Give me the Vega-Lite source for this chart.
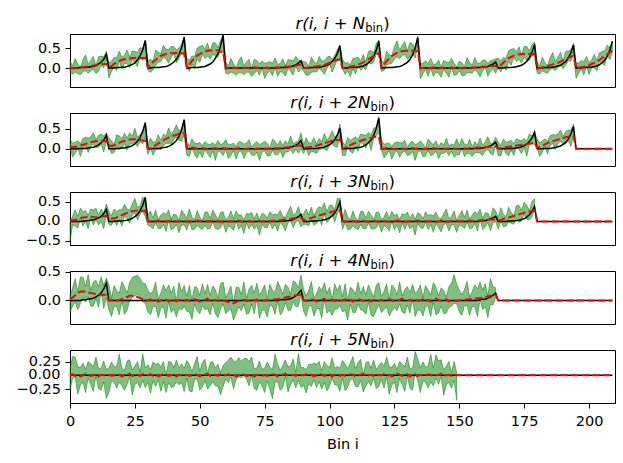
{
  "$schema": "https://vega.github.io/schema/vega-lite/v6.json",
  "padding": {"left": 15, "top": 15, "right": 5, "bottom": 5},
  "spacing": 26,
  "bounds": "flush",
  "datasets": {
    "p1": [
      {"x":0,"l":-0.1,"h":0.18,"b":0,"r":0.01},{"x":1,"l":-0.15,"h":0.05,"b":0,"r":0},{"x":2,"l":-0.1,"h":0.24,"b":0,"r":-0.01},{"x":3,"l":-0.14,"h":0.1,"b":0,"r":0},{"x":4,"l":-0.17,"h":0.01,"b":0.01,"r":0.01},
      {"x":5,"l":-0.09,"h":0.21,"b":0.01,"r":0.02},{"x":6,"l":-0.07,"h":0.33,"b":0.01,"r":0.03},{"x":7,"l":-0.13,"h":0.09,"b":0.02,"r":0.04},{"x":8,"l":-0.07,"h":0.19,"b":0.03,"r":0.05},{"x":9,"l":-0.03,"h":0.29,"b":0.04,"r":0.06},
      {"x":10,"l":-0.14,"h":0.06,"b":0.06,"r":0.07},{"x":11,"l":-0.08,"h":0.28,"b":0.1,"r":0.08},{"x":12,"l":0.06,"h":0.3,"b":0.15,"r":0.09},{"x":13,"l":0,"h":0.28,"b":0.22,"r":0.1},{"x":14,"l":0.24,"h":0.42,"b":0.34,"r":0.1},
      {"x":15,"l":-0.25,"h":0.13,"b":0,"r":0.01},{"x":16,"l":-0.09,"h":0.17,"b":0,"r":0.05},{"x":17,"l":0.05,"h":0.27,"b":0,"r":0.1},{"x":18,"l":-0.06,"h":0.26,"b":0.01,"r":0.14},{"x":19,"l":0.18,"h":0.42,"b":0.01,"r":0.18},
      {"x":20,"l":-0.03,"h":0.27,"b":0.02,"r":0.2},{"x":21,"l":0.12,"h":0.32,"b":0.02,"r":0.22},{"x":22,"l":0.11,"h":0.45,"b":0.04,"r":0.24},{"x":23,"l":0.01,"h":0.27,"b":0.06,"r":0.24},{"x":24,"l":0.21,"h":0.43,"b":0.09,"r":0.25},
      {"x":25,"l":0.13,"h":0.41,"b":0.13,"r":0.25},{"x":26,"l":0.03,"h":0.39,"b":0.2,"r":0.26},{"x":27,"l":0.27,"h":0.51,"b":0.3,"r":0.25},{"x":28,"l":0.19,"h":0.49,"b":0.45,"r":0.25},{"x":29,"l":0.28,"h":0.68,"b":0.69,"r":0.25},
      {"x":30,"l":-0.05,"h":0.19,"b":0,"r":0.02},{"x":31,"l":-0.11,"h":0.21,"b":0,"r":0.07},{"x":32,"l":-0.04,"h":0.18,"b":0.01,"r":0.15},{"x":33,"l":0.07,"h":0.45,"b":0.01,"r":0.2},{"x":34,"l":0.14,"h":0.4,"b":0.01,"r":0.26},
      {"x":35,"l":0.16,"h":0.36,"b":0.02,"r":0.3},{"x":36,"l":0.27,"h":0.57,"b":0.03,"r":0.33},{"x":37,"l":0.22,"h":0.46,"b":0.04,"r":0.35},{"x":38,"l":0.12,"h":0.46,"b":0.06,"r":0.36},{"x":39,"l":0.26,"h":0.54,"b":0.1,"r":0.37},
      {"x":40,"l":0.36,"h":0.54,"b":0.15,"r":0.37},{"x":41,"l":0.13,"h":0.45,"b":0.22,"r":0.38},{"x":42,"l":0.24,"h":0.5,"b":0.33,"r":0.37},{"x":43,"l":0.38,"h":0.6,"b":0.51,"r":0.36},{"x":44,"l":0.35,"h":0.78,"b":0.77,"r":0.37},
      {"x":45,"l":0,"h":0.24,"b":0,"r":0.02},{"x":46,"l":-0.08,"h":0.2,"b":0,"r":0.09},{"x":47,"l":0.1,"h":0.3,"b":0.01,"r":0.18},{"x":48,"l":-0.01,"h":0.29,"b":0.01,"r":0.24},{"x":49,"l":0.24,"h":0.5,"b":0.01,"r":0.31},
      {"x":50,"l":0.14,"h":0.54,"b":0.02,"r":0.35},{"x":51,"l":0.35,"h":0.57,"b":0.03,"r":0.39},{"x":52,"l":0.24,"h":0.48,"b":0.04,"r":0.41},{"x":53,"l":0.3,"h":0.62,"b":0.07,"r":0.43},{"x":54,"l":0.22,"h":0.42,"b":0.1,"r":0.44},
      {"x":55,"l":0.35,"h":0.63,"b":0.15,"r":0.44},{"x":56,"l":0.29,"h":0.63,"b":0.24,"r":0.45},{"x":57,"l":0.27,"h":0.51,"b":0.36,"r":0.43},{"x":58,"l":0.43,"h":0.69,"b":0.54,"r":0.4},{"x":59,"l":0.45,"h":0.82,"b":0.82,"r":0.41},
      {"x":60,"l":-0.13,"h":0.15,"b":0,"r":-0.02},{"x":61,"l":-0.15,"h":0.05,"b":0,"r":0},{"x":62,"l":-0.1,"h":0.24,"b":0,"r":-0.01},{"x":63,"l":-0.13,"h":0.11,"b":0,"r":0.01},{"x":64,"l":-0.18,"h":0,"b":0,"r":0},
      {"x":65,"l":-0.12,"h":0.18,"b":0,"r":-0.01},{"x":66,"l":-0.12,"h":0.28,"b":0,"r":-0.02},{"x":67,"l":-0.17,"h":0.05,"b":0,"r":0},{"x":68,"l":-0.11,"h":0.15,"b":0,"r":0.01},{"x":69,"l":-0.1,"h":0.22,"b":0,"r":-0.01},
      {"x":70,"l":-0.21,"h":-0.01,"b":0,"r":0},{"x":71,"l":-0.14,"h":0.22,"b":0,"r":0.02},{"x":72,"l":-0.06,"h":0.18,"b":0,"r":0.01},{"x":73,"l":-0.18,"h":0.1,"b":0,"r":-0.01},{"x":74,"l":0,"h":0.18,"b":0,"r":0},
      {"x":75,"l":-0.26,"h":0.12,"b":0,"r":0},{"x":76,"l":-0.13,"h":0.13,"b":0,"r":0.01},{"x":77,"l":-0.06,"h":0.16,"b":0,"r":-0.01},{"x":78,"l":-0.2,"h":0.12,"b":0,"r":0},{"x":79,"l":0.01,"h":0.25,"b":0,"r":0.01},
      {"x":80,"l":-0.21,"h":0.09,"b":0,"r":0.02},{"x":81,"l":-0.09,"h":0.11,"b":0.01,"r":0.01},{"x":82,"l":-0.11,"h":0.23,"b":0.01,"r":0.02},{"x":83,"l":-0.2,"h":0.06,"b":0.01,"r":0.03},{"x":84,"l":-0.01,"h":0.21,"b":0.02,"r":0.03},
      {"x":85,"l":-0.08,"h":0.2,"b":0.03,"r":0.04},{"x":86,"l":-0.18,"h":0.18,"b":0.05,"r":0.05},{"x":87,"l":0.05,"h":0.29,"b":0.08,"r":0.06},{"x":88,"l":-0.1,"h":0.2,"b":0.12,"r":0.08},{"x":89,"l":-0.02,"h":0.18,"b":0.18,"r":0.09},
      {"x":90,"l":-0.07,"h":0.17,"b":0,"r":0},{"x":91,"l":-0.18,"h":0.14,"b":0,"r":0},{"x":92,"l":-0.18,"h":0.04,"b":0,"r":0.01},{"x":93,"l":-0.11,"h":0.27,"b":0.01,"r":0.02},{"x":94,"l":-0.09,"h":0.17,"b":0.01,"r":0.03},
      {"x":95,"l":-0.1,"h":0.1,"b":0.01,"r":0.04},{"x":96,"l":-0.01,"h":0.29,"b":0.02,"r":0.05},{"x":97,"l":-0.06,"h":0.18,"b":0.03,"r":0.07},{"x":98,"l":-0.16,"h":0.18,"b":0.05,"r":0.08},{"x":99,"l":-0.01,"h":0.27,"b":0.07,"r":0.1},
      {"x":100,"l":0.12,"h":0.3,"b":0.1,"r":0.13},{"x":101,"l":-0.1,"h":0.22,"b":0.16,"r":0.15},{"x":102,"l":0.05,"h":0.31,"b":0.24,"r":0.18},{"x":103,"l":0.23,"h":0.45,"b":0.36,"r":0.2},{"x":104,"l":0.2,"h":0.58,"b":0.55,"r":0.22},
      {"x":105,"l":-0.02,"h":0.22,"b":0,"r":0},{"x":106,"l":-0.16,"h":0.12,"b":0,"r":0.01},{"x":107,"l":-0.06,"h":0.14,"b":0,"r":0.02},{"x":108,"l":-0.22,"h":0.08,"b":0.01,"r":0.03},{"x":109,"l":-0.02,"h":0.24,"b":0.01,"r":0.05},
      {"x":110,"l":-0.15,"h":0.25,"b":0.02,"r":0.06},{"x":111,"l":0.05,"h":0.27,"b":0.02,"r":0.09},{"x":112,"l":-0.06,"h":0.18,"b":0.04,"r":0.11},{"x":113,"l":0.01,"h":0.33,"b":0.05,"r":0.14},{"x":114,"l":-0.04,"h":0.16,"b":0.08,"r":0.18},
      {"x":115,"l":0.13,"h":0.41,"b":0.13,"r":0.22},{"x":116,"l":0.1,"h":0.44,"b":0.19,"r":0.26},{"x":117,"l":0.14,"h":0.38,"b":0.29,"r":0.3},{"x":118,"l":0.35,"h":0.61,"b":0.44,"r":0.34},{"x":119,"l":0.38,"h":0.7,"b":0.67,"r":0.38},
      {"x":120,"l":-0.09,"h":0.19,"b":0,"r":0.02},{"x":121,"l":-0.06,"h":0.14,"b":0,"r":0.09},{"x":122,"l":0.08,"h":0.42,"b":0.01,"r":0.17},{"x":123,"l":0.1,"h":0.34,"b":0.01,"r":0.24},{"x":124,"l":0.12,"h":0.3,"b":0.01,"r":0.3},
      {"x":125,"l":0.23,"h":0.53,"b":0.02,"r":0.34},{"x":126,"l":0.28,"h":0.68,"b":0.03,"r":0.38},{"x":127,"l":0.23,"h":0.45,"b":0.04,"r":0.4},{"x":128,"l":0.3,"h":0.56,"b":0.06,"r":0.42},{"x":129,"l":0.34,"h":0.66,"b":0.1,"r":0.43},
      {"x":130,"l":0.22,"h":0.42,"b":0.14,"r":0.43},{"x":131,"l":0.28,"h":0.64,"b":0.22,"r":0.44},{"x":132,"l":0.36,"h":0.6,"b":0.33,"r":0.43},{"x":133,"l":0.25,"h":0.53,"b":0.5,"r":0.42},{"x":134,"l":0.55,"h":0.8,"b":0.76,"r":0.42},
      {"x":135,"l":-0.27,"h":0.11,"b":0,"r":-0.01},{"x":136,"l":-0.14,"h":0.12,"b":0,"r":0},{"x":137,"l":-0.04,"h":0.18,"b":0,"r":0.01},{"x":138,"l":-0.21,"h":0.11,"b":0,"r":-0.01},{"x":139,"l":0,"h":0.24,"b":0,"r":0},
      {"x":140,"l":-0.21,"h":0.09,"b":0,"r":0.02},{"x":141,"l":-0.1,"h":0.1,"b":0,"r":0},{"x":142,"l":-0.14,"h":0.2,"b":0,"r":-0.01},{"x":143,"l":-0.23,"h":0.03,"b":0,"r":0},{"x":144,"l":-0.03,"h":0.19,"b":0,"r":0.01},
      {"x":145,"l":-0.13,"h":0.15,"b":0,"r":-0.01},{"x":146,"l":-0.23,"h":0.13,"b":0,"r":0},{"x":147,"l":0,"h":0.24,"b":0,"r":0.01},{"x":148,"l":-0.18,"h":0.12,"b":0,"r":0},{"x":149,"l":-0.17,"h":0.03,"b":0,"r":-0.01},
      {"x":150,"l":-0.07,"h":0.17,"b":0,"r":0},{"x":151,"l":-0.19,"h":0.13,"b":0,"r":-0.01},{"x":152,"l":-0.19,"h":0.03,"b":0,"r":0},{"x":153,"l":-0.12,"h":0.26,"b":0,"r":0.01},{"x":154,"l":-0.12,"h":0.14,"b":0,"r":0},
      {"x":155,"l":-0.13,"h":0.07,"b":0,"r":0.01},{"x":156,"l":-0.04,"h":0.26,"b":0.01,"r":0.02},{"x":157,"l":-0.12,"h":0.12,"b":0.01,"r":0.01},{"x":158,"l":-0.22,"h":0.12,"b":0.01,"r":0.02},{"x":159,"l":-0.08,"h":0.2,"b":0.02,"r":0.03},
      {"x":160,"l":0.02,"h":0.2,"b":0.03,"r":0.03},{"x":161,"l":-0.21,"h":0.11,"b":0.04,"r":0.04},{"x":162,"l":-0.08,"h":0.18,"b":0.07,"r":0.05},{"x":163,"l":-0.02,"h":0.2,"b":0.1,"r":0.05},{"x":164,"l":-0.13,"h":0.23,"b":0.15,"r":0.06},
      {"x":165,"l":0,"h":0.24,"b":0,"r":0.02},{"x":166,"l":-0.1,"h":0.18,"b":0,"r":0.07},{"x":167,"l":0.06,"h":0.26,"b":0,"r":0.14},{"x":168,"l":-0.06,"h":0.24,"b":0.01,"r":0.19},{"x":169,"l":0.17,"h":0.43,"b":0.01,"r":0.24},
      {"x":170,"l":0.07,"h":0.47,"b":0.01,"r":0.28},{"x":171,"l":0.27,"h":0.49,"b":0.02,"r":0.31},{"x":172,"l":0.16,"h":0.4,"b":0.03,"r":0.33},{"x":173,"l":0.21,"h":0.53,"b":0.05,"r":0.34},{"x":174,"l":0.13,"h":0.33,"b":0.07,"r":0.35},
      {"x":175,"l":0.26,"h":0.54,"b":0.11,"r":0.35},{"x":176,"l":0.2,"h":0.54,"b":0.17,"r":0.36},{"x":177,"l":0.19,"h":0.43,"b":0.26,"r":0.35},{"x":178,"l":0.32,"h":0.58,"b":0.39,"r":0.34},{"x":179,"l":0.32,"h":0.65,"b":0.59,"r":0.35},
      {"x":180,"l":-0.13,"h":0.15,"b":0,"r":-0.02},{"x":181,"l":-0.15,"h":0.05,"b":0,"r":0},{"x":182,"l":-0.07,"h":0.27,"b":0,"r":0.02},{"x":183,"l":-0.11,"h":0.13,"b":0.01,"r":0.03},{"x":184,"l":-0.13,"h":0.05,"b":0.01,"r":0.05},
      {"x":185,"l":-0.04,"h":0.26,"b":0.01,"r":0.07},{"x":186,"l":-0.01,"h":0.39,"b":0.02,"r":0.09},{"x":187,"l":-0.06,"h":0.16,"b":0.03,"r":0.11},{"x":188,"l":0.01,"h":0.27,"b":0.05,"r":0.13},{"x":189,"l":0.07,"h":0.39,"b":0.07,"r":0.16},
      {"x":190,"l":-0.02,"h":0.18,"b":0.11,"r":0.19},{"x":191,"l":0.06,"h":0.42,"b":0.16,"r":0.22},{"x":192,"l":0.18,"h":0.42,"b":0.25,"r":0.25},{"x":193,"l":0.17,"h":0.45,"b":0.38,"r":0.28},{"x":194,"l":0.4,"h":0.62,"b":0.57,"r":0.3},
      {"x":195,"l":-0.26,"h":0.12,"b":0,"r":0},{"x":196,"l":-0.13,"h":0.13,"b":0,"r":0.01},{"x":197,"l":-0.03,"h":0.19,"b":0,"r":0.02},{"x":198,"l":-0.17,"h":0.15,"b":0.01,"r":0.03},{"x":199,"l":0.05,"h":0.29,"b":0.01,"r":0.05},
      {"x":200,"l":-0.16,"h":0.14,"b":0.02,"r":0.07},{"x":201,"l":0,"h":0.2,"b":0.02,"r":0.1},{"x":202,"l":0,"h":0.34,"b":0.04,"r":0.13},{"x":203,"l":-0.07,"h":0.19,"b":0.05,"r":0.16},{"x":204,"l":0.16,"h":0.38,"b":0.08,"r":0.2},
      {"x":205,"l":0.13,"h":0.41,"b":0.13,"r":0.25},{"x":206,"l":0.06,"h":0.42,"b":0.19,"r":0.29},{"x":207,"l":0.33,"h":0.57,"b":0.29,"r":0.34},{"x":208,"l":0.21,"h":0.51,"b":0.44,"r":0.39},{"x":209,"l":0.41,"h":0.66,"b":0.67,"r":0.43}
    ],
    "p2": [
      {"x":0,"l":0.02,"h":0.26,"b":0,"r":0.04},{"x":1,"l":-0.2,"h":0.14,"b":0,"r":0.04},{"x":2,"l":-0.11,"h":0.17,"b":0,"r":0.05},{"x":3,"l":0.02,"h":0.2,"b":0,"r":0.06},{"x":4,"l":-0.19,"h":0.13,"b":0.01,"r":0.08},
      {"x":5,"l":0,"h":0.26,"b":0.01,"r":0.1},{"x":6,"l":0.07,"h":0.29,"b":0.01,"r":0.12},{"x":7,"l":-0.09,"h":0.27,"b":0.02,"r":0.14},{"x":8,"l":0.06,"h":0.3,"b":0.03,"r":0.16},{"x":9,"l":0.12,"h":0.4,"b":0.04,"r":0.18},
      {"x":10,"l":0.03,"h":0.23,"b":0.06,"r":0.19},{"x":11,"l":0.04,"h":0.34,"b":0.1,"r":0.2},{"x":12,"l":0.11,"h":0.37,"b":0.15,"r":0.2},{"x":13,"l":-0.08,"h":0.32,"b":0.22,"r":0.19},{"x":14,"l":0.18,"h":0.4,"b":0.34,"r":0.2},
      {"x":15,"l":0.03,"h":0.27,"b":0,"r":0.08},{"x":16,"l":-0.12,"h":0.2,"b":0,"r":0.07},{"x":17,"l":-0.09,"h":0.11,"b":0,"r":0.09},{"x":18,"l":0.07,"h":0.35,"b":0.01,"r":0.12},{"x":19,"l":-0.02,"h":0.32,"b":0.01,"r":0.15},
      {"x":20,"l":0.02,"h":0.26,"b":0.02,"r":0.18},{"x":21,"l":0.13,"h":0.39,"b":0.02,"r":0.2},{"x":22,"l":-0.03,"h":0.27,"b":0.04,"r":0.22},{"x":23,"l":0.12,"h":0.4,"b":0.05,"r":0.23},{"x":24,"l":0.12,"h":0.32,"b":0.08,"r":0.24},
      {"x":25,"l":0.17,"h":0.51,"b":0.12,"r":0.24},{"x":26,"l":0.05,"h":0.29,"b":0.19,"r":0.23},{"x":27,"l":0.18,"h":0.36,"b":0.28,"r":0.22},{"x":28,"l":0.12,"h":0.42,"b":0.43,"r":0.21},{"x":29,"l":0.3,"h":0.66,"b":0.65,"r":0.2},
      {"x":30,"l":-0.14,"h":0.08,"b":0,"r":0},{"x":31,"l":0.01,"h":0.27,"b":0,"r":0.02},{"x":32,"l":-0.16,"h":0.16,"b":0.01,"r":0.05},{"x":33,"l":-0.02,"h":0.18,"b":0.01,"r":0.09},{"x":34,"l":-0.01,"h":0.35,"b":0.01,"r":0.13},
      {"x":35,"l":-0.03,"h":0.21,"b":0.02,"r":0.17},{"x":36,"l":0.09,"h":0.37,"b":0.03,"r":0.21},{"x":37,"l":0.13,"h":0.31,"b":0.04,"r":0.25},{"x":38,"l":0.14,"h":0.52,"b":0.06,"r":0.28},{"x":39,"l":0.1,"h":0.36,"b":0.09,"r":0.31},
      {"x":40,"l":0.24,"h":0.46,"b":0.14,"r":0.33},{"x":41,"l":0.28,"h":0.6,"b":0.21,"r":0.35},{"x":42,"l":0.21,"h":0.45,"b":0.31,"r":0.37},{"x":43,"l":0.19,"h":0.49,"b":0.47,"r":0.39},{"x":44,"l":0.35,"h":0.75,"b":0.72,"r":0.4},
      {"x":45,"l":-0.16,"h":0.18,"b":0,"r":0.02},{"x":46,"l":-0.19,"h":0.07,"b":0,"r":0.01},{"x":47,"l":0.03,"h":0.25,"b":0,"r":0.03},{"x":48,"l":-0.14,"h":0.14,"b":0,"r":0.02},{"x":49,"l":-0.23,"h":0.13,"b":0,"r":0},
      {"x":50,"l":-0.08,"h":0.16,"b":0,"r":0.01},{"x":51,"l":-0.22,"h":0.08,"b":0,"r":0.02},{"x":52,"l":-0.02,"h":0.18,"b":0,"r":0.01},{"x":53,"l":-0.12,"h":0.12,"b":0,"r":-0.01},{"x":54,"l":-0.22,"h":0.1,"b":0,"r":0},
      {"x":55,"l":-0.06,"h":0.16,"b":0,"r":0.01},{"x":56,"l":-0.29,"h":0.09,"b":0,"r":0.02},{"x":57,"l":-0.05,"h":0.21,"b":0,"r":0},{"x":58,"l":-0.09,"h":0.11,"b":0,"r":0.01},{"x":59,"l":-0.17,"h":0.13,"b":0,"r":0.02},
      {"x":60,"l":-0.01,"h":0.23,"b":0,"r":0.01},{"x":61,"l":-0.24,"h":0.1,"b":0,"r":0},{"x":62,"l":-0.17,"h":0.11,"b":0,"r":-0.01},{"x":63,"l":-0.04,"h":0.14,"b":0,"r":0},{"x":64,"l":-0.26,"h":0.06,"b":0,"r":0.01},
      {"x":65,"l":-0.08,"h":0.18,"b":0,"r":0.02},{"x":66,"l":-0.05,"h":0.17,"b":0,"r":0},{"x":67,"l":-0.24,"h":0.12,"b":0,"r":-0.01},{"x":68,"l":-0.1,"h":0.14,"b":0,"r":0},{"x":69,"l":-0.05,"h":0.23,"b":0,"r":0.01},
      {"x":70,"l":-0.16,"h":0.04,"b":0,"r":0},{"x":71,"l":-0.17,"h":0.13,"b":0,"r":-0.01},{"x":72,"l":-0.08,"h":0.18,"b":0,"r":0.01},{"x":73,"l":-0.29,"h":0.11,"b":0,"r":0},{"x":74,"l":-0.08,"h":0.14,"b":0,"r":0.02},
      {"x":75,"l":-0.05,"h":0.19,"b":0,"r":0},{"x":76,"l":-0.18,"h":0.14,"b":0,"r":0.01},{"x":77,"l":-0.18,"h":0.02,"b":0,"r":0},{"x":78,"l":-0.04,"h":0.24,"b":0,"r":0.01},{"x":79,"l":-0.15,"h":0.19,"b":0,"r":0.02},
      {"x":80,"l":-0.15,"h":0.09,"b":0,"r":0.01},{"x":81,"l":-0.05,"h":0.21,"b":0.01,"r":0.02},{"x":82,"l":-0.22,"h":0.08,"b":0.01,"r":0.03},{"x":83,"l":-0.08,"h":0.2,"b":0.02,"r":0.03},{"x":84,"l":-0.08,"h":0.12,"b":0.02,"r":0.04},
      {"x":85,"l":-0.02,"h":0.32,"b":0.03,"r":0.05},{"x":86,"l":-0.12,"h":0.12,"b":0.06,"r":0.06},{"x":87,"l":-0.01,"h":0.17,"b":0.09,"r":0.07},{"x":88,"l":-0.11,"h":0.19,"b":0.13,"r":0.08},{"x":89,"l":0,"h":0.4,"b":0.2,"r":0.08},
      {"x":90,"l":-0.12,"h":0.1,"b":0,"r":0.02},{"x":91,"l":0.02,"h":0.28,"b":0,"r":0.03},{"x":92,"l":-0.17,"h":0.15,"b":0,"r":0.04},{"x":93,"l":-0.06,"h":0.14,"b":0.01,"r":0.05},{"x":94,"l":-0.08,"h":0.28,"b":0.01,"r":0.06},
      {"x":95,"l":-0.12,"h":0.12,"b":0.01,"r":0.08},{"x":96,"l":-0.02,"h":0.26,"b":0.02,"r":0.1},{"x":97,"l":0,"h":0.18,"b":0.03,"r":0.12},{"x":98,"l":0,"h":0.38,"b":0.04,"r":0.14},{"x":99,"l":-0.05,"h":0.21,"b":0.07,"r":0.16},
      {"x":100,"l":0.09,"h":0.31,"b":0.1,"r":0.18},{"x":101,"l":0.13,"h":0.45,"b":0.15,"r":0.2},{"x":102,"l":0.06,"h":0.3,"b":0.23,"r":0.21},{"x":103,"l":0.04,"h":0.34,"b":0.34,"r":0.22},{"x":104,"l":0.3,"h":0.62,"b":0.52,"r":0.23},
      {"x":105,"l":-0.17,"h":0.17,"b":0,"r":0.01},{"x":106,"l":-0.17,"h":0.09,"b":0,"r":0.03},{"x":107,"l":0.06,"h":0.28,"b":0.01,"r":0.06},{"x":108,"l":-0.07,"h":0.21,"b":0.01,"r":0.09},{"x":109,"l":-0.11,"h":0.25,"b":0.01,"r":0.12},
      {"x":110,"l":0.06,"h":0.3,"b":0.02,"r":0.15},{"x":111,"l":-0.06,"h":0.24,"b":0.03,"r":0.18},{"x":112,"l":0.17,"h":0.37,"b":0.04,"r":0.2},{"x":113,"l":0.11,"h":0.35,"b":0.06,"r":0.22},{"x":114,"l":0.02,"h":0.34,"b":0.1,"r":0.24},
      {"x":115,"l":0.19,"h":0.41,"b":0.15,"r":0.26},{"x":116,"l":-0.04,"h":0.34,"b":0.22,"r":0.27},{"x":117,"l":0.26,"h":0.52,"b":0.33,"r":0.29},{"x":118,"l":0.33,"h":0.53,"b":0.51,"r":0.3},{"x":119,"l":0.4,"h":0.8,"b":0.77,"r":0.31},
      {"x":120,"l":-0.02,"h":0.22,"b":0,"r":0},{"x":121,"l":-0.23,"h":0.11,"b":0,"r":0.01},{"x":122,"l":-0.14,"h":0.14,"b":0,"r":0.02},{"x":123,"l":-0.04,"h":0.14,"b":0,"r":0},{"x":124,"l":-0.26,"h":0.06,"b":0,"r":0.01},
      {"x":125,"l":-0.11,"h":0.15,"b":0,"r":-0.01},{"x":126,"l":-0.05,"h":0.17,"b":0,"r":0},{"x":127,"l":-0.21,"h":0.15,"b":0,"r":0.02},{"x":128,"l":-0.09,"h":0.15,"b":0,"r":0.01},{"x":129,"l":-0.06,"h":0.22,"b":0,"r":0},
      {"x":130,"l":-0.17,"h":0.03,"b":0,"r":-0.01},{"x":131,"l":-0.15,"h":0.15,"b":0,"r":0.01},{"x":132,"l":-0.07,"h":0.19,"b":0,"r":0.02},{"x":133,"l":-0.29,"h":0.11,"b":0,"r":0},{"x":134,"l":-0.09,"h":0.13,"b":0,"r":0.01},
      {"x":135,"l":-0.04,"h":0.2,"b":0,"r":0.01},{"x":136,"l":-0.2,"h":0.12,"b":0,"r":-0.01},{"x":137,"l":-0.18,"h":0.02,"b":0,"r":0},{"x":138,"l":-0.04,"h":0.24,"b":0,"r":0.01},{"x":139,"l":-0.17,"h":0.17,"b":0,"r":0},
      {"x":140,"l":-0.14,"h":0.1,"b":0,"r":0.02},{"x":141,"l":-0.06,"h":0.2,"b":0,"r":0.01},{"x":142,"l":-0.25,"h":0.05,"b":0,"r":0},{"x":143,"l":-0.12,"h":0.16,"b":0,"r":-0.01},{"x":144,"l":-0.11,"h":0.09,"b":0,"r":0.01},
      {"x":145,"l":-0.07,"h":0.27,"b":0,"r":0},{"x":146,"l":-0.17,"h":0.07,"b":0,"r":0.01},{"x":147,"l":-0.06,"h":0.12,"b":0,"r":0.02},{"x":148,"l":-0.21,"h":0.09,"b":0,"r":0.01},{"x":149,"l":-0.15,"h":0.25,"b":0,"r":0},
      {"x":150,"l":-0.14,"h":0.08,"b":0,"r":0},{"x":151,"l":0,"h":0.26,"b":0,"r":0.01},{"x":152,"l":-0.2,"h":0.12,"b":0,"r":0.01},{"x":153,"l":-0.11,"h":0.09,"b":0,"r":0},{"x":154,"l":-0.12,"h":0.24,"b":0,"r":0.02},
      {"x":155,"l":-0.19,"h":0.05,"b":0,"r":0.01},{"x":156,"l":-0.1,"h":0.18,"b":0.01,"r":0.02},{"x":157,"l":-0.09,"h":0.09,"b":0.01,"r":0.03},{"x":158,"l":-0.11,"h":0.27,"b":0.01,"r":0.03},{"x":159,"l":-0.17,"h":0.09,"b":0.02,"r":0.04},
      {"x":160,"l":-0.05,"h":0.17,"b":0.03,"r":0.04},{"x":161,"l":-0.02,"h":0.3,"b":0.05,"r":0.05},{"x":162,"l":-0.11,"h":0.13,"b":0.07,"r":0.05},{"x":163,"l":-0.16,"h":0.14,"b":0.11,"r":0.06},{"x":164,"l":0.09,"h":0.29,"b":0.17,"r":0.06},
      {"x":165,"l":-0.17,"h":0.17,"b":0,"r":0.01},{"x":166,"l":-0.18,"h":0.08,"b":0,"r":0.02},{"x":167,"l":0.03,"h":0.25,"b":0,"r":0.03},{"x":168,"l":-0.12,"h":0.16,"b":0,"r":0.04},{"x":169,"l":-0.18,"h":0.18,"b":0.01,"r":0.05},
      {"x":170,"l":-0.03,"h":0.21,"b":0.01,"r":0.06},{"x":171,"l":-0.17,"h":0.13,"b":0.01,"r":0.07},{"x":172,"l":0.05,"h":0.25,"b":0.02,"r":0.08},{"x":173,"l":-0.02,"h":0.22,"b":0.03,"r":0.09},{"x":174,"l":-0.12,"h":0.2,"b":0.05,"r":0.1},
      {"x":175,"l":0.04,"h":0.26,"b":0.08,"r":0.11},{"x":176,"l":-0.19,"h":0.19,"b":0.12,"r":0.12},{"x":177,"l":0.11,"h":0.37,"b":0.18,"r":0.13},{"x":178,"l":0.12,"h":0.32,"b":0.27,"r":0.14},{"x":179,"l":0.12,"h":0.42,"b":0.41,"r":0.15},
      {"x":180,"l":0,"h":0.24,"b":0,"r":0.02},{"x":181,"l":-0.19,"h":0.15,"b":0,"r":0.05},{"x":182,"l":-0.08,"h":0.2,"b":0,"r":0.08},{"x":183,"l":0.07,"h":0.25,"b":0.01,"r":0.11},{"x":184,"l":-0.13,"h":0.19,"b":0.01,"r":0.14},
      {"x":185,"l":0.07,"h":0.33,"b":0.01,"r":0.17},{"x":186,"l":0.14,"h":0.36,"b":0.02,"r":0.19},{"x":187,"l":-0.02,"h":0.34,"b":0.03,"r":0.21},{"x":188,"l":0.13,"h":0.37,"b":0.05,"r":0.23},{"x":189,"l":0.19,"h":0.47,"b":0.07,"r":0.25},
      {"x":190,"l":0.11,"h":0.31,"b":0.11,"r":0.27},{"x":191,"l":0.13,"h":0.43,"b":0.16,"r":0.29},{"x":192,"l":0.21,"h":0.47,"b":0.24,"r":0.3},{"x":193,"l":0.06,"h":0.46,"b":0.37,"r":0.32},{"x":194,"l":0.34,"h":0.62,"b":0.56,"r":0.33},
      {"x":195,"b":0,"r":0},{"x":209,"b":0,"r":0}
    ],
    "p3": [
      {"x":0,"l":-0.52,"h":-0.04,"b":0,"r":0.02},{"x":1,"l":-0.08,"h":0.14,"b":0,"r":0.03},{"x":2,"l":-0.12,"h":0.3,"b":0,"r":0.04},{"x":3,"l":-0.17,"h":0.13,"b":0,"r":0.06},{"x":4,"l":0.08,"h":0.34,"b":0,"r":0.08},
      {"x":5,"l":-0.12,"h":0.24,"b":0.01,"r":0.1},{"x":6,"l":0,"h":0.28,"b":0.01,"r":0.11},{"x":7,"l":-0.18,"h":0.16,"b":0.02,"r":0.12},{"x":8,"l":0.08,"h":0.32,"b":0.03,"r":0.12},{"x":9,"l":-0.09,"h":0.29,"b":0.04,"r":0.11},
      {"x":10,"l":0.04,"h":0.34,"b":0.06,"r":0.1},{"x":11,"l":-0.09,"h":0.17,"b":0.09,"r":0.11},{"x":12,"l":0,"h":0.32,"b":0.13,"r":0.12},{"x":13,"l":-0.19,"h":0.21,"b":0.2,"r":0.13},{"x":14,"l":0.17,"h":0.45,"b":0.31,"r":0.14},
      {"x":15,"l":-0.08,"h":0.26,"b":0,"r":0.08},{"x":16,"l":-0.1,"h":0.14,"b":0,"r":0.07},{"x":17,"l":0.04,"h":0.32,"b":0,"r":0.08},{"x":18,"l":-0.11,"h":0.25,"b":0.01,"r":0.1},{"x":19,"l":0.04,"h":0.3,"b":0.01,"r":0.13},
      {"x":20,"l":-0.12,"h":0.3,"b":0.01,"r":0.16},{"x":21,"l":0.14,"h":0.44,"b":0.02,"r":0.19},{"x":22,"l":0.07,"h":0.31,"b":0.03,"r":0.22},{"x":23,"l":-0.05,"h":0.29,"b":0.05,"r":0.24},{"x":24,"l":0.17,"h":0.45,"b":0.08,"r":0.26},
      {"x":25,"l":0.21,"h":0.59,"b":0.12,"r":0.27},{"x":26,"l":0.04,"h":0.36,"b":0.18,"r":0.28},{"x":27,"l":0.18,"h":0.4,"b":0.27,"r":0.28},{"x":28,"l":0.26,"h":0.62,"b":0.41,"r":0.27},{"x":29,"l":0.12,"h":0.56,"b":0.62,"r":0.28},
      {"x":30,"l":-0.09,"h":0.17,"b":0,"r":0.01},{"x":31,"l":-0.13,"h":0.27,"b":0,"r":0},{"x":32,"l":-0.19,"h":0.09,"b":0,"r":-0.01},{"x":33,"l":-0.03,"h":0.29,"b":0,"r":0.01},{"x":34,"l":-0.19,"h":0.05,"b":0,"r":0.02},
      {"x":35,"l":-0.18,"h":0.16,"b":0,"r":0},{"x":36,"l":-0.08,"h":0.22,"b":0,"r":-0.01},{"x":37,"l":-0.26,"h":0.18,"b":0,"r":0.01},{"x":38,"l":0.03,"h":0.29,"b":0,"r":0},{"x":39,"l":-0.22,"h":0.06,"b":0,"r":0.02},
      {"x":40,"l":-0.17,"h":0.19,"b":0,"r":0.01},{"x":41,"l":-0.08,"h":0.16,"b":0,"r":-0.01},{"x":42,"l":-0.29,"h":0.03,"b":0,"r":0},{"x":43,"l":-0.09,"h":0.29,"b":0,"r":0.01},{"x":44,"l":-0.09,"h":0.19,"b":0,"r":0.02},
      {"x":45,"l":-0.22,"h":0.08,"b":0,"r":0},{"x":46,"l":-0.02,"h":0.32,"b":0,"r":0.01},{"x":47,"l":-0.21,"h":0.11,"b":0,"r":-0.01},{"x":48,"l":-0.2,"h":0.04,"b":0,"r":0},{"x":49,"l":-0.1,"h":0.28,"b":0,"r":0.02},
      {"x":50,"l":-0.16,"h":0.12,"b":0,"r":0.01},{"x":51,"l":-0.21,"h":0.01,"b":0,"r":0},{"x":52,"l":-0.1,"h":0.24,"b":0,"r":-0.01},{"x":53,"l":-0.2,"h":0.24,"b":0,"r":0.01},{"x":54,"l":-0.18,"h":0.08,"b":0,"r":0},
      {"x":55,"l":-0.01,"h":0.29,"b":0,"r":0.02},{"x":56,"l":-0.18,"h":0.18,"b":0,"r":0.01},{"x":57,"l":-0.21,"h":0.03,"b":0,"r":0},{"x":58,"l":-0.17,"h":0.23,"b":0,"r":-0.01},{"x":59,"l":-0.03,"h":0.25,"b":0,"r":0.01},
      {"x":60,"l":-0.28,"h":0.04,"b":0,"r":0},{"x":61,"l":-0.12,"h":0.1,"b":0,"r":-0.01},{"x":62,"l":-0.15,"h":0.27,"b":0,"r":0.01},{"x":63,"l":-0.23,"h":0.07,"b":0,"r":0},{"x":64,"l":0.01,"h":0.27,"b":0,"r":0.01},
      {"x":65,"l":-0.2,"h":0.16,"b":0,"r":0.02},{"x":66,"l":-0.11,"h":0.17,"b":0,"r":0},{"x":67,"l":-0.31,"h":0.03,"b":0,"r":-0.01},{"x":68,"l":-0.04,"h":0.2,"b":0,"r":0},{"x":69,"l":-0.19,"h":0.19,"b":0,"r":0.01},
      {"x":70,"l":-0.07,"h":0.23,"b":0,"r":-0.01},{"x":71,"l":-0.2,"h":0.06,"b":0,"r":0},{"x":72,"l":-0.1,"h":0.22,"b":0,"r":0.02},{"x":73,"l":-0.35,"h":0.05,"b":0,"r":0.01},{"x":74,"l":-0.07,"h":0.21,"b":0,"r":0},
      {"x":75,"l":-0.16,"h":0.18,"b":0,"r":0},{"x":76,"l":-0.16,"h":0.08,"b":0,"r":0.01},{"x":77,"l":-0.03,"h":0.25,"b":0,"r":0.01},{"x":78,"l":-0.19,"h":0.17,"b":0,"r":0.02},{"x":79,"l":-0.07,"h":0.19,"b":0,"r":0.02},
      {"x":80,"l":-0.25,"h":0.17,"b":0,"r":0.03},{"x":81,"l":-0.02,"h":0.28,"b":0.01,"r":0.03},{"x":82,"l":-0.11,"h":0.13,"b":0.01,"r":0.04},{"x":83,"l":-0.24,"h":0.1,"b":0.01,"r":0.05},{"x":84,"l":-0.03,"h":0.25,"b":0.02,"r":0.06},
      {"x":85,"l":0.01,"h":0.39,"b":0.03,"r":0.07},{"x":86,"l":-0.16,"h":0.16,"b":0.05,"r":0.08},{"x":87,"l":-0.01,"h":0.21,"b":0.08,"r":0.09},{"x":88,"l":0.02,"h":0.38,"b":0.12,"r":0.1},{"x":89,"l":-0.14,"h":0.16,"b":0.18,"r":0.1},
      {"x":90,"l":-0.07,"h":0.19,"b":0,"r":0.03},{"x":91,"l":-0.08,"h":0.32,"b":0,"r":0.05},{"x":92,"l":-0.11,"h":0.17,"b":0,"r":0.07},{"x":93,"l":0.05,"h":0.37,"b":0.01,"r":0.09},{"x":94,"l":-0.1,"h":0.14,"b":0.01,"r":0.11},
      {"x":95,"l":-0.05,"h":0.29,"b":0.01,"r":0.13},{"x":96,"l":0.08,"h":0.38,"b":0.02,"r":0.15},{"x":97,"l":-0.1,"h":0.34,"b":0.03,"r":0.17},{"x":98,"l":0.22,"h":0.48,"b":0.04,"r":0.19},{"x":99,"l":-0.03,"h":0.25,"b":0.06,"r":0.21},
      {"x":100,"l":0.05,"h":0.41,"b":0.09,"r":0.23},{"x":101,"l":0.18,"h":0.42,"b":0.14,"r":0.25},{"x":102,"l":-0.02,"h":0.3,"b":0.22,"r":0.27},{"x":103,"l":0.21,"h":0.59,"b":0.33,"r":0.28},{"x":104,"l":0.31,"h":0.59,"b":0.5,"r":0.29},
      {"x":105,"l":-0.21,"h":0.09,"b":0,"r":0.01},{"x":106,"l":-0.03,"h":0.31,"b":0,"r":0},{"x":107,"l":-0.21,"h":0.11,"b":0,"r":-0.01},{"x":108,"l":-0.2,"h":0.04,"b":0,"r":0},{"x":109,"l":-0.11,"h":0.27,"b":0,"r":0.01},
      {"x":110,"l":-0.18,"h":0.1,"b":0,"r":-0.01},{"x":111,"l":-0.21,"h":0.01,"b":0,"r":0},{"x":112,"l":-0.08,"h":0.26,"b":0,"r":0.01},{"x":113,"l":-0.19,"h":0.25,"b":0,"r":0.02},{"x":114,"l":-0.18,"h":0.08,"b":0,"r":0},
      {"x":115,"l":-0.04,"h":0.26,"b":0,"r":-0.01},{"x":116,"l":-0.19,"h":0.17,"b":0,"r":0},{"x":117,"l":-0.2,"h":0.04,"b":0,"r":0.01},{"x":118,"l":-0.16,"h":0.24,"b":0,"r":0},{"x":119,"l":-0.05,"h":0.23,"b":0,"r":-0.01},
      {"x":120,"l":-0.28,"h":0.04,"b":0,"r":0},{"x":121,"l":-0.1,"h":0.12,"b":0,"r":0.01},{"x":122,"l":-0.16,"h":0.26,"b":0,"r":0},{"x":123,"l":-0.24,"h":0.06,"b":0,"r":-0.01},{"x":124,"l":0,"h":0.26,"b":0,"r":0},
      {"x":125,"l":-0.21,"h":0.15,"b":0,"r":0.01},{"x":126,"l":-0.09,"h":0.19,"b":0,"r":0.02},{"x":127,"l":-0.29,"h":0.05,"b":0,"r":0.01},{"x":128,"l":-0.04,"h":0.2,"b":0,"r":0},{"x":129,"l":-0.21,"h":0.17,"b":0,"r":-0.01},
      {"x":130,"l":-0.06,"h":0.24,"b":0,"r":0},{"x":131,"l":-0.19,"h":0.07,"b":0,"r":0.01},{"x":132,"l":-0.12,"h":0.2,"b":0,"r":0},{"x":133,"l":-0.35,"h":0.05,"b":0,"r":0.01},{"x":134,"l":-0.05,"h":0.23,"b":0,"r":0.02},
      {"x":135,"l":-0.16,"h":0.18,"b":0,"r":0},{"x":136,"l":-0.18,"h":0.06,"b":0,"r":-0.01},{"x":137,"l":-0.03,"h":0.25,"b":0,"r":0.01},{"x":138,"l":-0.21,"h":0.15,"b":0,"r":0},{"x":139,"l":-0.08,"h":0.18,"b":0,"r":0.01},
      {"x":140,"l":-0.28,"h":0.14,"b":0,"r":0},{"x":141,"l":-0.06,"h":0.24,"b":0,"r":-0.01},{"x":142,"l":-0.15,"h":0.09,"b":0,"r":0},{"x":143,"l":-0.27,"h":0.07,"b":0,"r":0.02},{"x":144,"l":-0.08,"h":0.2,"b":0,"r":0.01},
      {"x":145,"l":-0.06,"h":0.32,"b":0,"r":0},{"x":146,"l":-0.25,"h":0.07,"b":0,"r":-0.01},{"x":147,"l":-0.09,"h":0.13,"b":0,"r":0.01},{"x":148,"l":-0.09,"h":0.27,"b":0,"r":0},{"x":149,"l":-0.28,"h":0.02,"b":0,"r":0.01},
      {"x":150,"l":-0.1,"h":0.16,"b":0,"r":0},{"x":151,"l":-0.12,"h":0.28,"b":0,"r":0.01},{"x":152,"l":-0.18,"h":0.1,"b":0,"r":0},{"x":153,"l":-0.03,"h":0.29,"b":0,"r":0.01},{"x":154,"l":-0.19,"h":0.05,"b":0,"r":0.02},
      {"x":155,"l":-0.17,"h":0.17,"b":0,"r":0.01},{"x":156,"l":-0.05,"h":0.25,"b":0,"r":0.02},{"x":157,"l":-0.25,"h":0.19,"b":0,"r":0.02},{"x":158,"l":0.06,"h":0.32,"b":0.01,"r":0.03},{"x":159,"l":-0.21,"h":0.07,"b":0.02,"r":0.03},
      {"x":160,"l":-0.14,"h":0.22,"b":0.02,"r":0.04},{"x":161,"l":-0.03,"h":0.21,"b":0.04,"r":0.04},{"x":162,"l":-0.24,"h":0.08,"b":0.06,"r":0.05},{"x":163,"l":-0.03,"h":0.35,"b":0.09,"r":0.05},{"x":164,"l":-0.01,"h":0.27,"b":0.13,"r":0.05},
      {"x":165,"l":-0.2,"h":0.1,"b":0,"r":0.02},{"x":166,"l":0.01,"h":0.35,"b":0,"r":0.04},{"x":167,"l":-0.14,"h":0.18,"b":0,"r":0.06},{"x":168,"l":-0.12,"h":0.12,"b":0,"r":0.08},{"x":169,"l":-0.02,"h":0.36,"b":0.01,"r":0.1},
      {"x":170,"l":-0.05,"h":0.23,"b":0.01,"r":0.12},{"x":171,"l":-0.07,"h":0.15,"b":0.01,"r":0.14},{"x":172,"l":0.07,"h":0.41,"b":0.02,"r":0.16},{"x":173,"l":-0.03,"h":0.41,"b":0.03,"r":0.18},{"x":174,"l":0.02,"h":0.28,"b":0.05,"r":0.2},
      {"x":175,"l":0.19,"h":0.49,"b":0.07,"r":0.22},{"x":176,"l":0.05,"h":0.41,"b":0.11,"r":0.24},{"x":177,"l":0.04,"h":0.28,"b":0.17,"r":0.25},{"x":178,"l":0.11,"h":0.51,"b":0.25,"r":0.27},{"x":179,"l":0.3,"h":0.58,"b":0.38,"r":0.28},
      {"x":180,"b":0,"r":0},{"x":209,"b":0,"r":0}
    ],
    "p4": [
      {"x":0,"l":-0.2,"h":0.08,"b":0,"r":0.02},{"x":1,"l":-0.1,"h":0.22,"b":0,"r":0.05},{"x":2,"l":-0.02,"h":0.38,"b":0,"r":0.09},{"x":3,"l":-0.16,"h":0.14,"b":0,"r":0.13},{"x":4,"l":-0.05,"h":0.41,"b":0,"r":0.15},
      {"x":5,"l":0.06,"h":0.4,"b":0.01,"r":0.16},{"x":6,"l":-0.03,"h":0.25,"b":0.01,"r":0.15},{"x":7,"l":0.07,"h":0.45,"b":0.02,"r":0.14},{"x":8,"l":-0.1,"h":0.18,"b":0.03,"r":0.13},{"x":9,"l":-0.1,"h":0.32,"b":0.04,"r":0.12},
      {"x":10,"l":0.03,"h":0.35,"b":0.06,"r":0.11},{"x":11,"l":-0.12,"h":0.24,"b":0.09,"r":0.11},{"x":12,"l":0.15,"h":0.41,"b":0.13,"r":0.1},{"x":13,"l":-0.14,"h":0.26,"b":0.2,"r":0.1},{"x":14,"l":0.05,"h":0.39,"b":0.3,"r":0.1},
      {"x":15,"l":-0.17,"h":0.27,"b":0,"r":0},{"x":16,"l":-0.28,"h":0.04,"b":0,"r":0.01},{"x":17,"l":-0.1,"h":0.26,"b":0,"r":-0.01},{"x":18,"l":-0.11,"h":0.17,"b":0,"r":0},{"x":19,"l":-0.25,"h":0.13,"b":0,"r":0.01},
      {"x":20,"l":-0.01,"h":0.33,"b":0,"r":0.02},{"x":21,"l":-0.24,"h":0.24,"b":0,"r":0.04},{"x":22,"l":-0.17,"h":0.13,"b":0,"r":0.06},{"x":23,"l":-0.01,"h":0.31,"b":0,"r":0.08},{"x":24,"l":0.05,"h":0.4,"b":0,"r":0.08},
      {"x":25,"l":0.08,"h":0.42,"b":0,"r":0.07},{"x":26,"l":0.1,"h":0.44,"b":0,"r":0.06},{"x":27,"l":0.06,"h":0.38,"b":0,"r":0.04},{"x":28,"l":-0.02,"h":0.3,"b":0,"r":0.02},{"x":29,"l":-0.05,"h":0.29,"b":0,"r":0},
      {"x":30,"l":-0.2,"h":0.18,"b":0,"r":0},{"x":31,"l":-0.25,"h":0.11,"b":0,"r":0.02},{"x":32,"l":-0.11,"h":0.17,"b":0,"r":-0.01},{"x":33,"l":-0.1,"h":0.32,"b":0,"r":0.01},{"x":34,"l":-0.3,"h":0.02,"b":0,"r":-0.02},
      {"x":35,"l":-0.13,"h":0.13,"b":0,"r":0},{"x":36,"l":-0.11,"h":0.27,"b":0,"r":0.03},{"x":37,"l":-0.31,"h":0.17,"b":0,"r":0.01},{"x":38,"l":-0.03,"h":0.27,"b":0,"r":-0.01},{"x":39,"l":-0.21,"h":0.13,"b":0,"r":0},
      {"x":40,"l":-0.15,"h":0.25,"b":0,"r":0.02},{"x":41,"l":-0.29,"h":-0.01,"b":0,"r":-0.02},{"x":42,"l":-0.13,"h":0.31,"b":0,"r":0.01},{"x":43,"l":-0.17,"h":0.15,"b":0,"r":0},{"x":44,"l":-0.1,"h":0.26,"b":0,"r":-0.01},
      {"x":45,"l":-0.19,"h":0.07,"b":0,"r":0.01},{"x":46,"l":-0.2,"h":0.26,"b":0,"r":-0.01},{"x":47,"l":-0.33,"h":0.01,"b":0,"r":0},{"x":48,"l":-0.06,"h":0.24,"b":0,"r":0.02},{"x":49,"l":-0.18,"h":0.22,"b":0,"r":0.01},
      {"x":50,"l":-0.23,"h":0.09,"b":0,"r":-0.02},{"x":51,"l":-0.09,"h":0.29,"b":0,"r":0},{"x":52,"l":-0.16,"h":0.12,"b":0,"r":0.01},{"x":53,"l":-0.14,"h":0.28,"b":0,"r":0.03},{"x":54,"l":-0.25,"h":0.09,"b":0,"r":-0.01},
      {"x":55,"l":-0.05,"h":0.25,"b":0,"r":0},{"x":56,"l":-0.23,"h":0.19,"b":0,"r":0.01},{"x":57,"l":-0.3,"h":0.04,"b":0,"r":-0.01},{"x":58,"l":-0.15,"h":0.29,"b":0,"r":0.02},{"x":59,"l":-0.06,"h":0.32,"b":0,"r":0},
      {"x":60,"l":-0.23,"h":0.05,"b":0,"r":-0.01},{"x":61,"l":-0.18,"h":0.14,"b":0,"r":-0.03},{"x":62,"l":-0.15,"h":0.25,"b":0,"r":-0.04},{"x":63,"l":-0.34,"h":-0.04,"b":0,"r":-0.05},{"x":64,"l":-0.23,"h":0.23,"b":0,"r":-0.03},
      {"x":65,"l":-0.11,"h":0.23,"b":0,"r":-0.01},{"x":66,"l":-0.18,"h":0.1,"b":0,"r":0},{"x":67,"l":-0.06,"h":0.32,"b":0,"r":0.01},{"x":68,"l":-0.24,"h":0.04,"b":0,"r":-0.01},{"x":69,"l":-0.22,"h":0.2,"b":0,"r":0},
      {"x":70,"l":-0.06,"h":0.26,"b":0,"r":0.02},{"x":71,"l":-0.23,"h":0.13,"b":0,"r":0},{"x":72,"l":0.04,"h":0.3,"b":0,"r":0.01},{"x":73,"l":-0.31,"h":0.09,"b":0,"r":-0.01},{"x":74,"l":-0.17,"h":0.17,"b":0,"r":0},
      {"x":75,"l":-0.17,"h":0.27,"b":0,"r":0},{"x":76,"l":-0.29,"h":0.03,"b":0,"r":0},{"x":77,"l":-0.08,"h":0.28,"b":0,"r":0.01},{"x":78,"l":-0.1,"h":0.18,"b":0,"r":0.01},{"x":79,"l":-0.24,"h":0.14,"b":0,"r":0.02},
      {"x":80,"l":-0.01,"h":0.33,"b":0,"r":0.02},{"x":81,"l":-0.25,"h":0.23,"b":0.01,"r":0.03},{"x":82,"l":-0.19,"h":0.11,"b":0.01,"r":0.04},{"x":83,"l":-0.04,"h":0.28,"b":0.01,"r":0.05},{"x":84,"l":-0.17,"h":0.23,"b":0.02,"r":0.06},
      {"x":85,"l":-0.17,"h":0.11,"b":0.03,"r":0.07},{"x":86,"l":-0.02,"h":0.34,"b":0.05,"r":0.08},{"x":87,"l":-0.11,"h":0.31,"b":0.08,"r":0.09},{"x":88,"l":-0.1,"h":0.22,"b":0.12,"r":0.1},{"x":89,"l":0.1,"h":0.44,"b":0.18,"r":0.1},
      {"x":90,"l":-0.19,"h":0.19,"b":0,"r":0.01},{"x":91,"l":-0.28,"h":0.08,"b":0,"r":-0.01},{"x":92,"l":-0.1,"h":0.18,"b":0,"r":0},{"x":93,"l":-0.09,"h":0.33,"b":0,"r":0.02},{"x":94,"l":-0.27,"h":0.05,"b":0,"r":0.01},
      {"x":95,"l":-0.15,"h":0.11,"b":0,"r":-0.02},{"x":96,"l":-0.14,"h":0.24,"b":0,"r":0},{"x":97,"l":-0.31,"h":0.17,"b":0,"r":0.01},{"x":98,"l":0.01,"h":0.31,"b":0,"r":0.03},{"x":99,"l":-0.22,"h":0.12,"b":0,"r":-0.01},
      {"x":100,"l":-0.17,"h":0.23,"b":0,"r":0},{"x":101,"l":-0.26,"h":0.02,"b":0,"r":0.01},{"x":102,"l":-0.15,"h":0.29,"b":0,"r":-0.01},{"x":103,"l":-0.15,"h":0.17,"b":0,"r":0.02},{"x":104,"l":-0.09,"h":0.27,"b":0,"r":0},
      {"x":105,"l":-0.2,"h":0.06,"b":0,"r":0},{"x":106,"l":-0.17,"h":0.29,"b":0,"r":0.02},{"x":107,"l":-0.34,"h":0,"b":0,"r":-0.01},{"x":108,"l":-0.07,"h":0.23,"b":0,"r":0.01},{"x":109,"l":-0.21,"h":0.19,"b":0,"r":-0.02},
      {"x":110,"l":-0.21,"h":0.11,"b":0,"r":0},{"x":111,"l":-0.06,"h":0.32,"b":0,"r":0.03},{"x":112,"l":-0.16,"h":0.12,"b":0,"r":0.01},{"x":113,"l":-0.18,"h":0.24,"b":0,"r":-0.01},{"x":114,"l":-0.24,"h":0.1,"b":0,"r":0},
      {"x":115,"l":-0.03,"h":0.27,"b":0,"r":0.02},{"x":116,"l":-0.26,"h":0.16,"b":0,"r":-0.02},{"x":117,"l":-0.28,"h":0.06,"b":0,"r":0.01},{"x":118,"l":-0.17,"h":0.27,"b":0,"r":0},{"x":119,"l":-0.07,"h":0.31,"b":0,"r":-0.01},
      {"x":120,"l":-0.21,"h":0.07,"b":0,"r":0.01},{"x":121,"l":-0.16,"h":0.16,"b":0,"r":-0.01},{"x":122,"l":-0.11,"h":0.29,"b":0,"r":0},{"x":123,"l":-0.27,"h":0.03,"b":0,"r":0.02},{"x":124,"l":-0.19,"h":0.27,"b":0,"r":0.01},
      {"x":125,"l":-0.12,"h":0.22,"b":0,"r":-0.02},{"x":126,"l":-0.18,"h":0.1,"b":0,"r":0},{"x":127,"l":-0.06,"h":0.32,"b":0,"r":0.01},{"x":128,"l":-0.2,"h":0.08,"b":0,"r":0.03},{"x":129,"l":-0.23,"h":0.19,"b":0,"r":-0.01},
      {"x":130,"l":-0.08,"h":0.24,"b":0,"r":0},{"x":131,"l":-0.22,"h":0.14,"b":0,"r":0.01},{"x":132,"l":0.02,"h":0.28,"b":0,"r":-0.01},{"x":133,"l":-0.28,"h":0.12,"b":0,"r":0.02},{"x":134,"l":-0.17,"h":0.17,"b":0,"r":0},
      {"x":135,"l":-0.17,"h":0.27,"b":0,"r":0},{"x":136,"l":-0.27,"h":0.05,"b":0,"r":0.02},{"x":137,"l":-0.1,"h":0.26,"b":0,"r":-0.01},{"x":138,"l":-0.1,"h":0.18,"b":0,"r":0.01},{"x":139,"l":-0.28,"h":0.1,"b":0,"r":-0.02},
      {"x":140,"l":-0.03,"h":0.31,"b":0,"r":0},{"x":141,"l":-0.25,"h":0.23,"b":0,"r":0.03},{"x":142,"l":-0.22,"h":0.08,"b":0,"r":0.01},{"x":143,"l":-0.1,"h":0.22,"b":0,"r":-0.01},{"x":144,"l":-0.23,"h":0.17,"b":0,"r":0},
      {"x":145,"l":-0.22,"h":0.06,"b":0,"r":0.02},{"x":146,"l":-0.12,"h":0.24,"b":0,"r":-0.02},{"x":147,"l":-0.1,"h":0.3,"b":0,"r":0.01},{"x":148,"l":-0.05,"h":0.45,"b":0,"r":0},{"x":149,"l":-0.06,"h":0.28,"b":0,"r":-0.01},
      {"x":150,"l":-0.2,"h":0.18,"b":0,"r":0},{"x":151,"l":-0.26,"h":0.1,"b":0,"r":0.01},{"x":152,"l":-0.09,"h":0.19,"b":0,"r":0.01},{"x":153,"l":-0.09,"h":0.33,"b":0,"r":0.02},{"x":154,"l":-0.26,"h":0.06,"b":0,"r":0.02},
      {"x":155,"l":-0.1,"h":0.16,"b":0,"r":0.03},{"x":156,"l":-0.11,"h":0.27,"b":0,"r":0.03},{"x":157,"l":-0.28,"h":0.2,"b":0,"r":0.04},{"x":158,"l":0.02,"h":0.32,"b":0.01,"r":0.04},{"x":159,"l":-0.16,"h":0.18,"b":0.02,"r":0.05},
      {"x":160,"l":-0.11,"h":0.29,"b":0.02,"r":0.06},{"x":161,"l":-0.3,"h":0.08,"b":0.04,"r":0.07},{"x":162,"l":-0.06,"h":0.38,"b":0.06,"r":0.08},{"x":163,"l":-0.08,"h":0.24,"b":0.09,"r":0.09},{"x":164,"l":0.05,"h":0.22,"b":0.13,"r":0.1},
      {"x":165,"b":0,"r":0},{"x":209,"b":0,"r":0}
    ],
    "p5": [
      {"x":0,"l":-0.27,"h":0.12,"b":0,"r":0},{"x":1,"l":-0.05,"h":0.34,"b":0,"r":0.02},{"x":2,"l":-0.03,"h":0.33,"b":0,"r":-0.01},{"x":3,"l":-0.34,"h":0.16,"b":0,"r":0.01},{"x":4,"l":-0.18,"h":0.14,"b":0,"r":-0.02},
      {"x":5,"l":-0.12,"h":0.22,"b":0,"r":0},{"x":6,"l":-0.31,"h":0.11,"b":0,"r":0.03},{"x":7,"l":-0.05,"h":0.25,"b":0,"r":0.01},{"x":8,"l":-0.17,"h":0.21,"b":0,"r":-0.01},{"x":9,"l":-0.29,"h":0.15,"b":0,"r":0},
      {"x":10,"l":-0.01,"h":0.33,"b":0,"r":0.02},{"x":11,"l":-0.24,"h":0.12,"b":0,"r":-0.02},{"x":12,"l":-0.27,"h":0.13,"b":0,"r":0.01},{"x":13,"l":-0.12,"h":0.26,"b":0,"r":0},{"x":14,"l":-0.42,"h":0.11,"b":0,"r":-0.01},
      {"x":15,"l":-0.31,"h":0.13,"b":0,"r":0.01},{"x":16,"l":-0.1,"h":0.24,"b":0,"r":-0.01},{"x":17,"l":-0.13,"h":0.15,"b":0,"r":0},{"x":18,"l":-0.23,"h":0.17,"b":0,"r":0.02},{"x":19,"l":-0.12,"h":0.38,"b":0,"r":0.01},
      {"x":20,"l":-0.19,"h":0.13,"b":0,"r":-0.02},{"x":21,"l":-0.27,"h":0.09,"b":0,"r":0},{"x":22,"l":-0.16,"h":0.26,"b":0,"r":0.01},{"x":23,"l":-0.02,"h":0.28,"b":0,"r":0.03},{"x":24,"l":-0.36,"h":0.1,"b":0,"r":-0.01},
      {"x":25,"l":-0.17,"h":0.17,"b":0,"r":0},{"x":26,"l":-0.13,"h":0.25,"b":0,"r":0.01},{"x":27,"l":-0.23,"h":0.05,"b":0,"r":-0.01},{"x":28,"l":-0.09,"h":0.39,"b":0,"r":0.02},{"x":29,"l":-0.22,"h":0.14,"b":0,"r":0},
      {"x":30,"l":-0.13,"h":0.19,"b":0,"r":0},{"x":31,"l":-0.32,"h":0.1,"b":0,"r":0.02},{"x":32,"l":-0.1,"h":0.24,"b":0,"r":-0.01},{"x":33,"l":-0.2,"h":0.2,"b":0,"r":0.01},{"x":34,"l":-0.08,"h":0.22,"b":0,"r":-0.02},
      {"x":35,"l":-0.29,"h":0.15,"b":0,"r":0},{"x":36,"l":-0.11,"h":0.25,"b":0,"r":0.03},{"x":37,"l":-0.31,"h":0.01,"b":0,"r":0.01},{"x":38,"l":-0.13,"h":0.25,"b":0,"r":-0.01},{"x":39,"l":-0.22,"h":0.24,"b":0,"r":0},
      {"x":40,"l":-0.2,"h":0.14,"b":0,"r":0.02},{"x":41,"l":-0.12,"h":0.28,"b":0,"r":-0.02},{"x":42,"l":-0.17,"h":0.13,"b":0,"r":0.01},{"x":43,"l":-0.13,"h":0.21,"b":0,"r":0},{"x":44,"l":-0.29,"h":0.13,"b":0,"r":-0.01},
      {"x":45,"l":-0.05,"h":0.27,"b":0,"r":0.01},{"x":46,"l":-0.28,"h":0.2,"b":0,"r":-0.01},{"x":47,"l":-0.3,"h":0.06,"b":0,"r":0},{"x":48,"l":-0.08,"h":0.22,"b":0,"r":0.02},{"x":49,"l":-0.06,"h":0.34,"b":0,"r":0.01},
      {"x":50,"l":-0.27,"h":0.07,"b":0,"r":-0.02},{"x":51,"l":-0.21,"h":0.23,"b":0,"r":0},{"x":52,"l":-0.09,"h":0.29,"b":0,"r":0.01},{"x":53,"l":-0.25,"h":0.03,"b":0,"r":0.03},{"x":54,"l":-0.19,"h":0.23,"b":0,"r":-0.01},
      {"x":55,"l":-0.11,"h":0.25,"b":0,"r":0},{"x":56,"l":-0.19,"h":0.13,"b":0,"r":0.01},{"x":57,"l":-0.2,"h":0.2,"b":0,"r":-0.01},{"x":58,"l":-0.35,"h":0.05,"b":0,"r":0.02},{"x":59,"l":-0.2,"h":0.18,"b":0,"r":0},
      {"x":60,"l":-0.07,"h":0.23,"b":0,"r":0},{"x":61,"l":-0.13,"h":0.27,"b":0,"r":0.02},{"x":62,"l":-0.03,"h":0.33,"b":0,"r":-0.01},{"x":63,"l":-0.24,"h":0.26,"b":0,"r":0.01},{"x":64,"l":-0.08,"h":0.24,"b":0,"r":-0.02},
      {"x":65,"l":-0.02,"h":0.32,"b":0,"r":0},{"x":66,"l":-0.05,"h":0.25,"b":0,"r":0.03},{"x":67,"l":0,"h":0.3,"b":0,"r":0.01},{"x":68,"l":-0.07,"h":0.31,"b":0,"r":-0.01},{"x":69,"l":-0.19,"h":0.25,"b":0,"r":0},
      {"x":70,"l":-0.01,"h":0.33,"b":0,"r":0.02},{"x":71,"l":-0.24,"h":0.12,"b":0,"r":-0.02},{"x":72,"l":-0.27,"h":0.13,"b":0,"r":0.01},{"x":73,"l":-0.12,"h":0.26,"b":0,"r":0},{"x":74,"l":-0.19,"h":0.11,"b":0,"r":-0.01},
      {"x":75,"l":-0.31,"h":0.13,"b":0,"r":0.01},{"x":76,"l":-0.1,"h":0.24,"b":0,"r":-0.01},{"x":77,"l":-0.25,"h":0.15,"b":0,"r":0},{"x":78,"l":-0.42,"h":0.1,"b":0,"r":0.02},{"x":79,"l":-0.12,"h":0.38,"b":0,"r":0.01},
      {"x":80,"l":-0.12,"h":0.2,"b":0,"r":-0.02},{"x":81,"l":-0.27,"h":0.09,"b":0,"r":0},{"x":82,"l":-0.22,"h":0.18,"b":0,"r":0.01},{"x":83,"l":-0.02,"h":0.28,"b":0,"r":0.03},{"x":84,"l":-0.3,"h":0.15,"b":0,"r":-0.01},
      {"x":85,"l":-0.17,"h":0.17,"b":0,"r":0},{"x":86,"l":-0.08,"h":0.3,"b":0,"r":0.01},{"x":87,"l":-0.23,"h":0.05,"b":0,"r":-0.01},{"x":88,"l":-0.09,"h":0.39,"b":0,"r":0.02},{"x":89,"l":-0.22,"h":0.14,"b":0,"r":0},
      {"x":90,"l":-0.18,"h":0.14,"b":0,"r":0},{"x":91,"l":-0.32,"h":0.1,"b":0,"r":0.02},{"x":92,"l":-0.15,"h":0.2,"b":0,"r":-0.01},{"x":93,"l":-0.2,"h":0.2,"b":0,"r":0.01},{"x":94,"l":-0.08,"h":0.22,"b":0,"r":-0.02},
      {"x":95,"l":-0.22,"h":0.2,"b":0,"r":0},{"x":96,"l":-0.11,"h":0.25,"b":0,"r":0.03},{"x":97,"l":-0.25,"h":0.08,"b":0,"r":0.01},{"x":98,"l":-0.13,"h":0.25,"b":0,"r":-0.01},{"x":99,"l":-0.28,"h":0.18,"b":0,"r":0},
      {"x":100,"l":-0.2,"h":0.14,"b":0,"r":0.02},{"x":101,"l":-0.05,"h":0.32,"b":0,"r":-0.02},{"x":102,"l":-0.17,"h":0.13,"b":0,"r":0.01},{"x":103,"l":-0.18,"h":0.16,"b":0,"r":0},{"x":104,"l":-0.29,"h":0.13,"b":0,"r":-0.01},
      {"x":105,"l":-0.05,"h":0.27,"b":0,"r":0.01},{"x":106,"l":-0.28,"h":0.2,"b":0,"r":-0.01},{"x":107,"l":-0.22,"h":0.12,"b":0,"r":0},{"x":108,"l":-0.08,"h":0.22,"b":0,"r":0.02},{"x":109,"l":-0.06,"h":0.34,"b":0,"r":0.01},
      {"x":110,"l":-0.2,"h":0.12,"b":0,"r":-0.02},{"x":111,"l":-0.21,"h":0.23,"b":0,"r":0},{"x":112,"l":-0.09,"h":0.29,"b":0,"r":0.01},{"x":113,"l":-0.3,"h":0,"b":0,"r":0.03},{"x":114,"l":-0.19,"h":0.23,"b":0,"r":-0.01},
      {"x":115,"l":-0.11,"h":0.25,"b":0,"r":0},{"x":116,"l":-0.19,"h":0.13,"b":0,"r":0.01},{"x":117,"l":-0.05,"h":0.28,"b":0,"r":-0.01},{"x":118,"l":-0.24,"h":0.1,"b":0,"r":0.02},{"x":119,"l":-0.2,"h":0.18,"b":0,"r":0},
      {"x":120,"l":-0.07,"h":0.23,"b":0,"r":0},{"x":121,"l":-0.23,"h":0.17,"b":0,"r":0.02},{"x":122,"l":-0.03,"h":0.33,"b":0,"r":-0.01},{"x":123,"l":-0.34,"h":0.16,"b":0,"r":0.01},{"x":124,"l":-0.18,"h":0.14,"b":0,"r":-0.02},
      {"x":125,"l":-0.12,"h":0.22,"b":0,"r":0},{"x":126,"l":-0.31,"h":0.11,"b":0,"r":0.03},{"x":127,"l":-0.05,"h":0.25,"b":0,"r":0.01},{"x":128,"l":-0.17,"h":0.21,"b":0,"r":-0.01},{"x":129,"l":-0.29,"h":0.15,"b":0,"r":0},
      {"x":130,"l":-0.01,"h":0.33,"b":0,"r":0.02},{"x":131,"l":-0.24,"h":0.12,"b":0,"r":-0.02},{"x":132,"l":-0.27,"h":0.13,"b":0,"r":0.01},{"x":133,"l":0.05,"h":0.43,"b":0,"r":0},{"x":134,"l":-0.1,"h":0.3,"b":0,"r":-0.01},
      {"x":135,"l":-0.31,"h":0.13,"b":0,"r":0.01},{"x":136,"l":-0.1,"h":0.24,"b":0,"r":-0.01},{"x":137,"l":-0.13,"h":0.15,"b":0,"r":0},{"x":138,"l":-0.23,"h":0.17,"b":0,"r":0.02},{"x":139,"l":-0.12,"h":0.38,"b":0,"r":0.01},
      {"x":140,"l":-0.19,"h":0.13,"b":0,"r":-0.02},{"x":141,"l":-0.05,"h":0.37,"b":0,"r":0},{"x":142,"l":-0.16,"h":0.26,"b":0,"r":0.01},{"x":143,"l":-0.02,"h":0.28,"b":0,"r":0.03},{"x":144,"l":-0.36,"h":0.1,"b":0,"r":-0.01},
      {"x":145,"l":-0.17,"h":0.17,"b":0,"r":0},{"x":146,"l":-0.13,"h":0.25,"b":0,"r":0.01},{"x":147,"l":-0.23,"h":0.05,"b":0,"r":-0.01},{"x":148,"l":-0.09,"h":0.25,"b":0,"r":0.02},{"x":149,"l":-0.45,"h":0.05,"b":0,"r":0},
      {"x":150,"b":0,"r":0},{"x":209,"b":0,"r":0}
    ],
    "one": [{"x": 105}],
    "zero": [{"x": 0, "v": 0}]
  },
  "vconcat": [
    {
      "width": 545, "height": 53,
      "data": {"name": "p1"},
      "encoding": {"x": {"field": "x", "type": "quantitative", "scale": {"domain": [0, 210], "nice": false, "zero": false}, "axis": null}},
      "layer": [
        {"mark": {"type": "area", "color": "#008000", "fillOpacity": 0.5, "stroke": "#008000", "strokeOpacity": 0.5, "strokeWidth": 1},
         "encoding": {"y": {"field": "l", "type": "quantitative", "scale": {"domain": [-0.475, 0.85], "nice": false, "zero": false}, "axis": {"values": [0, 0.5], "format": ".1f"}, "title": null}, "y2": {"field": "h"}}},
        {"mark": {"type": "line", "color": "black", "strokeWidth": 1.5},
         "encoding": {"y": {"field": "b", "type": "quantitative", "scale": {"domain": [-0.475, 0.85], "nice": false, "zero": false}, "title": null}}},
        {"mark": {"type": "line", "color": "#ff0000", "strokeWidth": 2, "strokeDash": [7.4, 3.2]},
         "encoding": {"y": {"field": "r", "type": "quantitative", "scale": {"domain": [-0.475, 0.85], "nice": false, "zero": false}, "title": null}}},
        {"data": {"name": "one"}, "mark": {"type": "text", "text": "r(i, i + N", "align": "right", "baseline": "alphabetic", "dx": 22.6, "dy": -5, "fontSize": 16.5, "fontStyle": "italic", "color": "black"},
         "encoding": {"y": {"datum": 0.85}}},
        {"data": {"name": "one"}, "mark": {"type": "text", "text": "bin", "align": "left", "baseline": "alphabetic", "dx": 22.8, "dy": -2, "fontSize": 11.5, "color": "black"},
         "encoding": {"y": {"datum": 0.85}}},
        {"data": {"name": "one"}, "mark": {"type": "text", "text": ")", "align": "left", "baseline": "alphabetic", "dx": 40.8, "dy": -5, "fontSize": 16.5, "color": "black"},
         "encoding": {"y": {"datum": 0.85}}}
      ]
    },
    {
      "width": 545, "height": 53,
      "data": {"name": "p2"},
      "encoding": {"x": {"field": "x", "type": "quantitative", "scale": {"domain": [0, 210], "nice": false, "zero": false}, "axis": null}},
      "layer": [
        {"mark": {"type": "area", "color": "#008000", "fillOpacity": 0.5, "stroke": "#008000", "strokeOpacity": 0.5, "strokeWidth": 1},
         "encoding": {"y": {"field": "l", "type": "quantitative", "scale": {"domain": [-0.43, 0.895], "nice": false, "zero": false}, "axis": {"values": [0, 0.5], "format": ".1f"}, "title": null}, "y2": {"field": "h"}}},
        {"mark": {"type": "line", "color": "black", "strokeWidth": 1.5},
         "encoding": {"y": {"field": "b", "type": "quantitative", "scale": {"domain": [-0.43, 0.895], "nice": false, "zero": false}, "title": null}}},
        {"mark": {"type": "line", "color": "#ff0000", "strokeWidth": 2, "strokeDash": [7.4, 3.2]},
         "encoding": {"y": {"field": "r", "type": "quantitative", "scale": {"domain": [-0.43, 0.895], "nice": false, "zero": false}, "title": null}}},
        {"data": {"name": "one"}, "mark": {"type": "text", "text": "r(i, i + 2N", "align": "right", "baseline": "alphabetic", "dx": 27.9, "dy": -5, "fontSize": 16.5, "fontStyle": "italic", "color": "black"},
         "encoding": {"y": {"datum": 0.895}}},
        {"data": {"name": "one"}, "mark": {"type": "text", "text": "bin", "align": "left", "baseline": "alphabetic", "dx": 28.1, "dy": -2, "fontSize": 11.5, "color": "black"},
         "encoding": {"y": {"datum": 0.895}}},
        {"data": {"name": "one"}, "mark": {"type": "text", "text": ")", "align": "left", "baseline": "alphabetic", "dx": 46.1, "dy": -5, "fontSize": 16.5, "color": "black"},
         "encoding": {"y": {"datum": 0.895}}}
      ]
    },
    {
      "width": 545, "height": 53,
      "data": {"name": "p3"},
      "encoding": {"x": {"field": "x", "type": "quantitative", "scale": {"domain": [0, 210], "nice": false, "zero": false}, "axis": null}},
      "layer": [
        {"mark": {"type": "area", "color": "#008000", "fillOpacity": 0.5, "stroke": "#008000", "strokeOpacity": 0.5, "strokeWidth": 1},
         "encoding": {"y": {"field": "l", "type": "quantitative", "scale": {"domain": [-0.605, 0.754], "nice": false, "zero": false}, "axis": {"values": [-0.5, 0, 0.5], "format": ".1f"}, "title": null}, "y2": {"field": "h"}}},
        {"mark": {"type": "line", "color": "black", "strokeWidth": 1.5},
         "encoding": {"y": {"field": "b", "type": "quantitative", "scale": {"domain": [-0.605, 0.754], "nice": false, "zero": false}, "title": null}}},
        {"mark": {"type": "line", "color": "#ff0000", "strokeWidth": 2, "strokeDash": [7.4, 3.2]},
         "encoding": {"y": {"field": "r", "type": "quantitative", "scale": {"domain": [-0.605, 0.754], "nice": false, "zero": false}, "title": null}}},
        {"data": {"name": "zero"}, "mark": {"type": "text", "text": "0.0", "align": "right", "baseline": "middle", "dx": -9.5, "fontSize": 14.5, "color": "black", "clip": false},
         "encoding": {"y": {"field": "v", "type": "quantitative", "title": null}}},
        {"data": {"name": "one"}, "mark": {"type": "text", "text": "r(i, i + 3N", "align": "right", "baseline": "alphabetic", "dx": 27.9, "dy": -5, "fontSize": 16.5, "fontStyle": "italic", "color": "black"},
         "encoding": {"y": {"datum": 0.754}}},
        {"data": {"name": "one"}, "mark": {"type": "text", "text": "bin", "align": "left", "baseline": "alphabetic", "dx": 28.1, "dy": -2, "fontSize": 11.5, "color": "black"},
         "encoding": {"y": {"datum": 0.754}}},
        {"data": {"name": "one"}, "mark": {"type": "text", "text": ")", "align": "left", "baseline": "alphabetic", "dx": 46.1, "dy": -5, "fontSize": 16.5, "color": "black"},
         "encoding": {"y": {"datum": 0.754}}}
      ]
    },
    {
      "width": 545, "height": 53,
      "data": {"name": "p4"},
      "encoding": {"x": {"field": "x", "type": "quantitative", "scale": {"domain": [0, 210], "nice": false, "zero": false}, "axis": null}},
      "layer": [
        {"mark": {"type": "area", "color": "#008000", "fillOpacity": 0.5, "stroke": "#008000", "strokeOpacity": 0.5, "strokeWidth": 1},
         "encoding": {"y": {"field": "l", "type": "quantitative", "scale": {"domain": [-0.41, 0.512], "nice": false, "zero": false}, "axis": {"values": [0, 0.5], "format": ".1f"}, "title": null}, "y2": {"field": "h"}}},
        {"mark": {"type": "line", "color": "black", "strokeWidth": 1.5},
         "encoding": {"y": {"field": "b", "type": "quantitative", "scale": {"domain": [-0.41, 0.512], "nice": false, "zero": false}, "title": null}}},
        {"mark": {"type": "line", "color": "#ff0000", "strokeWidth": 2, "strokeDash": [7.4, 3.2]},
         "encoding": {"y": {"field": "r", "type": "quantitative", "scale": {"domain": [-0.41, 0.512], "nice": false, "zero": false}, "title": null}}},
        {"data": {"name": "one"}, "mark": {"type": "text", "text": "r(i, i + 4N", "align": "right", "baseline": "alphabetic", "dx": 27.9, "dy": -5, "fontSize": 16.5, "fontStyle": "italic", "color": "black"},
         "encoding": {"y": {"datum": 0.512}}},
        {"data": {"name": "one"}, "mark": {"type": "text", "text": "bin", "align": "left", "baseline": "alphabetic", "dx": 28.1, "dy": -2, "fontSize": 11.5, "color": "black"},
         "encoding": {"y": {"datum": 0.512}}},
        {"data": {"name": "one"}, "mark": {"type": "text", "text": ")", "align": "left", "baseline": "alphabetic", "dx": 46.1, "dy": -5, "fontSize": 16.5, "color": "black"},
         "encoding": {"y": {"datum": 0.512}}}
      ]
    },
    {
      "width": 545, "height": 53,
      "data": {"name": "p5"},
      "encoding": {"x": {"field": "x", "type": "quantitative", "scale": {"domain": [0, 210], "nice": false, "zero": false},
        "axis": {"values": [0, 25, 50, 75, 100, 125, 150, 175, 200], "format": "d", "title": "Bin i", "titlePadding": 10, "labelPadding": 6, "labelFlush": false}}},
      "layer": [
        {"mark": {"type": "area", "color": "#008000", "fillOpacity": 0.5, "stroke": "#008000", "strokeOpacity": 0.5, "strokeWidth": 1},
         "encoding": {"y": {"field": "l", "type": "quantitative", "scale": {"domain": [-0.5, 0.458], "nice": false, "zero": false}, "axis": {"values": [-0.25, 0, 0.25], "format": ".2f"}, "title": null}, "y2": {"field": "h"}}},
        {"mark": {"type": "line", "color": "black", "strokeWidth": 1.5},
         "encoding": {"y": {"field": "b", "type": "quantitative", "scale": {"domain": [-0.5, 0.458], "nice": false, "zero": false}, "title": null}}},
        {"mark": {"type": "line", "color": "#ff0000", "strokeWidth": 2, "strokeDash": [7.4, 3.2]},
         "encoding": {"y": {"field": "r", "type": "quantitative", "scale": {"domain": [-0.5, 0.458], "nice": false, "zero": false}, "title": null}}},
        {"data": {"name": "zero"}, "mark": {"type": "text", "text": "0.00", "align": "right", "baseline": "middle", "dx": -9.5, "fontSize": 14.5, "color": "black", "clip": false},
         "encoding": {"y": {"field": "v", "type": "quantitative", "title": null}}},
        {"data": {"name": "one"}, "mark": {"type": "text", "text": "r(i, i + 5N", "align": "right", "baseline": "alphabetic", "dx": 27.9, "dy": -5, "fontSize": 16.5, "fontStyle": "italic", "color": "black"},
         "encoding": {"y": {"datum": 0.458}}},
        {"data": {"name": "one"}, "mark": {"type": "text", "text": "bin", "align": "left", "baseline": "alphabetic", "dx": 28.1, "dy": -2, "fontSize": 11.5, "color": "black"},
         "encoding": {"y": {"datum": 0.458}}},
        {"data": {"name": "one"}, "mark": {"type": "text", "text": ")", "align": "left", "baseline": "alphabetic", "dx": 46.1, "dy": -5, "fontSize": 16.5, "color": "black"},
         "encoding": {"y": {"datum": 0.458}}}
      ]
    }
  ],
  "config": {
    "font": "DejaVu Sans",
    "view": {"stroke": "black", "strokeWidth": 1},
    "axis": {"grid": false, "domainColor": "black", "tickColor": "black", "labelColor": "black", "tickSize": 5, "tickWidth": 1,
      "labelPadding": 4.5, "labelFontSize": 14.5, "titleFontSize": 14.5, "titleFontWeight": "normal", "titleColor": "black"},
    "axisX": {"labelFlush": false}
  }
}
